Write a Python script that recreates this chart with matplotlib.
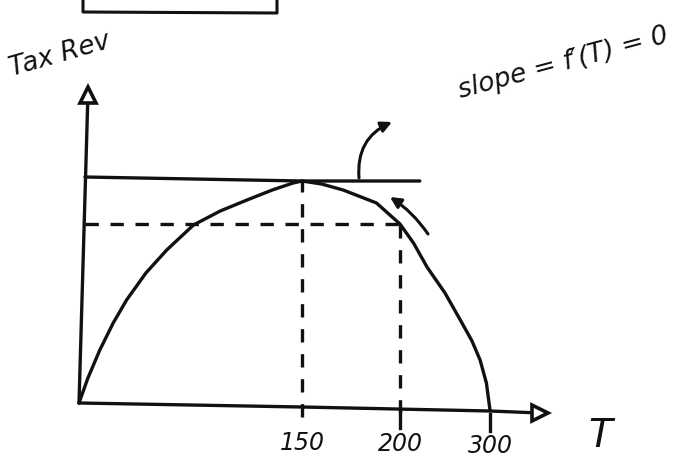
# -*- coding: utf-8 -*-

import numpy as np
import matplotlib
matplotlib.use('Agg')
import matplotlib.pyplot as plt
from matplotlib.lines import Line2D


# Laffer-style curve: tax revenue against the tax rate T (hand sketch)
T_curve = [0, 6, 14, 23, 32, 45, 59, 77, 95, 113, 130, 144, 150, 160, 171, 188, 200, 215, 230, 250, 267, 280, 289, 296, 300]
rev_curve = [0, 25, 53, 80, 103, 130, 153, 178, 192, 203, 213, 220, 222, 219, 213, 200, 179, 160, 136, 110, 83, 62, 43, 20, -7]

tick_T = [150, 200, 300]
tick_labels = ['150', '200', '300']

T_peak = 150
rev_peak = 222
T_right = 200
rev_right = 179

# the tangent line at the peak, drawn freehand so it tilts a little
tangent_T = [4, 150, 222]
tangent_rev = [226, 222, 222]

# axes, drawn by hand
yaxis_T = [0, 6]
yaxis_rev = [0, 308]
xaxis_T = [0, 150, 300, 355]
xaxis_rev = [0, -4, -8, -10]

# the sketch is not to scale: screen spacing per unit of T differs between ticks
scale_T = [-200, 0, 150, 200, 300, 700]
scale_px = [79 - 200 * 223 / 150, 79, 302, 400, 490, 490 + 400 * 0.9]

def fwd(t):
	return np.interp(t, scale_T, scale_px)

def inv(p):
	return np.interp(p, scale_px, scale_T)


plt.rcParams['font.family'] = ['DejaVu Sans']
ink = '#111111'
lw = 2.4

fig = plt.figure(figsize=(6.82, 4.71), dpi=100)
ax = fig.add_axes([0, 0, 1, 1])
ax.set_xscale('function', functions=(fwd, inv))
ax.set_xlim(inv(0), inv(682))
ax.set_ylim(403 - 471, 403)
ax.axis('off')

# axes and arrowheads
ax.plot(yaxis_T, yaxis_rev, color=ink, lw=lw, solid_capstyle='round')
ax.plot(xaxis_T, xaxis_rev, color=ink, lw=lw, solid_capstyle='round')
ax.plot(yaxis_T[-1], yaxis_rev[-1], marker='^', ms=12, mfc='white', mec=ink, mew=2.6)
ax.plot(xaxis_T[-1], xaxis_rev[-1], marker='>', ms=11, mfc='white', mec=ink, mew=2.6)

# revenue curve
ax.plot(T_curve, rev_curve, color=ink, lw=lw, solid_capstyle='round', solid_joinstyle='round')

# tangent at the top
ax.plot(tangent_T, tangent_rev, color=ink, lw=lw, solid_capstyle='round')

# dashed guides
ax.plot([T_peak, T_peak], [-14, rev_peak], color=ink, lw=lw, ls=(0, (4, 3.5)))
ax.plot([T_right, T_right], [-10, rev_right], color=ink, lw=lw, ls=(0, (4, 3.5)))
ax.plot([4, T_right], [rev_right, rev_right], color=ink, lw=lw, ls=(0, (4, 3.5)))

# small tick marks under the T axis
for t in tick_T[1:]:
	ax.plot([t, t], [-3 - t / 40, -20 - t / 40], color=ink, lw=lw)

# tick labels
for t, lab in zip(tick_T, tick_labels):
	ax.text(t, -38 - t / 60, lab, fontsize=17, style='italic', color=ink, ha='center', va='center')

# axis names
ax.text(inv(600), -33, 'T', fontsize=28, style='italic', color=ink, ha='center', va='center')
fig.text(60 / 682, 1 - 55 / 471, 'Tax Rev', fontsize=19, style='italic', color=ink,
	ha='center', va='center', rotation=16)
fig.text(563 / 682, 1 - 63 / 471, "slope = f\u2032(T) = 0", fontsize=19, style='italic', color=ink,
	ha='center', va='center', rotation=15)

# arrow from the tangent up to the slope note
ax.annotate('', xy=(inv(392), 403 - 122), xytext=(inv(359), 403 - 178),
	arrowprops=dict(arrowstyle='-|>', color=ink, lw=2.2, mutation_scale=16,
	connectionstyle='arc3,rad=-0.35', shrinkA=0, shrinkB=0))
# arrow sliding up the curve towards the peak
ax.annotate('', xy=(inv(390), 403 - 197), xytext=(inv(428), 403 - 234),
	arrowprops=dict(arrowstyle='-|>', color=ink, lw=2.2, mutation_scale=16,
	connectionstyle='arc3,rad=0.1', shrinkA=0, shrinkB=0))

# bottom of a box cut off at the top edge
box_x = [83 / 682, 83 / 682, 277 / 682, 277 / 682]
box_y = [1.0, 1 - 12 / 471, 1 - 13 / 471, 1.0]
fig.add_artist(Line2D(box_x, box_y, color=ink, lw=2.2, transform=fig.transFigure))

fig.savefig('out.png', dpi=100, facecolor='white')
